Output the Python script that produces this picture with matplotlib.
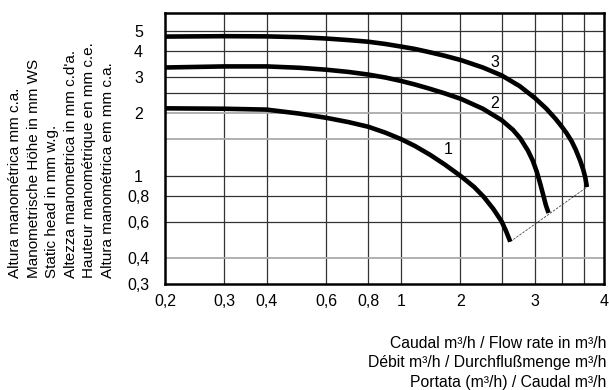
import matplotlib
matplotlib.use("Agg")
import matplotlib.pyplot as plt
from matplotlib.ticker import NullLocator, FixedLocator, FixedFormatter

plt.rcParams['font.family'] = ['Liberation Sans', 'DejaVu Sans']

# ---- data ----
curve1_x = [0.2, 0.3, 0.4, 0.5, 0.6, 0.7, 0.8, 0.9, 1.0, 1.1, 1.22, 1.35,
            1.51, 1.65, 1.76, 1.88, 1.99, 2.05, 2.11]
curve1_y = [2.11, 2.10, 2.08, 1.99, 1.90, 1.81, 1.72, 1.61, 1.50, 1.39, 1.26, 1.13,
            0.99, 0.88, 0.79, 0.69, 0.60, 0.54, 0.48]

curve2_x = [0.2, 0.3, 0.4, 0.5, 0.6, 0.7, 0.8, 0.9, 1.0, 1.1, 1.22, 1.35,
            1.51, 1.75, 1.99, 2.15, 2.26, 2.38, 2.46, 2.53, 2.59, 2.64, 2.69, 2.74]
curve2_y = [3.32, 3.36, 3.36, 3.31, 3.24, 3.16, 3.07, 2.97, 2.86, 2.75, 2.62, 2.49,
            2.34, 2.10, 1.85, 1.66, 1.51, 1.32, 1.18, 1.04, 0.91, 0.81, 0.72, 0.66]

curve3_x = [0.2, 0.3, 0.4, 0.5, 0.6, 0.7, 0.8, 0.9, 1.0, 1.1, 1.22, 1.35,
            1.51, 1.75, 1.99, 2.25, 2.5, 2.7, 2.88, 3.0, 3.10, 3.21, 3.3, 3.40,
            3.47, 3.52, 3.56]
curve3_y = [4.68, 4.70, 4.69, 4.65, 4.58, 4.50, 4.42, 4.31, 4.19, 4.08, 3.93, 3.78,
            3.60, 3.32, 3.04, 2.70, 2.36, 2.10, 1.87, 1.72, 1.60, 1.46, 1.33, 1.18,
            1.07, 0.98, 0.88]

curve_labels = ["1", "2", "3"]
label_x = [1.38, 1.90, 1.90]
label_y = [1.33, 2.23, 3.50]

x_tick_pos = [0.2, 0.3, 0.4, 0.6, 0.8, 1.0, 1.5, 2.5, 4.0]
x_tick_text = ["0,2", "0,3", "0,4", "0,6", "0,8", "1", "2", "3", "4"]
y_tick_pos = [0.3, 0.4, 0.6, 0.8, 1.0, 2.0, 3.0, 4.0, 5.0]
y_tick_text = ["0,3", "0,4", "0,6", "0,8", "1", "2", "3", "4", "5"]

x_grid = [0.3, 0.4, 0.6, 0.8, 1.0, 1.5, 2.0, 2.5, 3.0, 3.5]
y_grid_dark = [0.6, 0.8, 1.0, 2.5, 3.0, 4.0, 5.0]
y_grid_light = [0.4, 1.5, 2.0]

y_title_lines = [
    "Altura manométrica mm c.a.",
    "Manometrische Höhe in mm WS",
    "Static head in mm w.g.",
    "Altezza manometrica in mm c.d'a.",
    "Hauteur manométrique en mm c.e.",
    "Altura manométrica em mm c.a.",
]
x_title_lines = [
    "Caudal m³/h / Flow rate in m³/h",
    "Débit m³/h / Durchflußmenge m³/h",
    "Portata (m³/h) / Caudal m³/h",
]

# ---- figure ----
W, H = 609, 390
fig = plt.figure(figsize=(W / 100, H / 100), dpi=100)
ax = fig.add_axes([165 / W, 1 - 284 / H, 439 / W, (284 - 13.3) / H])
ax.set_xscale('log')
ax.set_yscale('log')
ax.set_xlim(0.2, 4.0)
ax.set_ylim(0.3, 6.06)

for gx in x_grid:
    ax.axvline(gx, color='#333333', lw=0.9, zorder=1)
for gy in y_grid_dark:
    ax.axhline(gy, color='#333333', lw=0.9, zorder=1)
for gy in y_grid_light:
    ax.axhline(gy, color='#aaaaaa', lw=1.3, zorder=1)

for xs, ys in [(curve1_x, curve1_y), (curve2_x, curve2_y), (curve3_x, curve3_y)]:
    ax.plot(xs, ys, color='black', lw=3.3, solid_capstyle='butt',
            solid_joinstyle='round', zorder=3)

# thin dashed line joining the curve ends
ax.plot([curve1_x[-1], curve3_x[-1]], [curve1_y[-1], curve3_y[-1]],
        color='#444444', lw=0.6, ls=(0, (3, 1.5)), zorder=2)

for t, lx, ly in zip(curve_labels, label_x, label_y):
    ax.text(lx, ly, t, fontsize=11.5, ha='center', va='center', zorder=4)

ax.xaxis.set_minor_locator(NullLocator())
ax.yaxis.set_minor_locator(NullLocator())
ax.xaxis.set_major_locator(FixedLocator(x_tick_pos))
ax.xaxis.set_major_formatter(FixedFormatter(x_tick_text))
ax.yaxis.set_major_locator(FixedLocator(y_tick_pos))
ax.yaxis.set_major_formatter(FixedFormatter(y_tick_text))
ax.tick_params(axis='both', length=0, labelsize=11.5)
ax.tick_params(axis='x', pad=7)
ax.tick_params(axis='y', pad=19)
for lab in ax.get_yticklabels():
    lab.set_horizontalalignment('center')

for s in ax.spines.values():
    s.set_linewidth(1.8)
    s.set_color('black')
    s.set_zorder(5)

# y title (six rotated lines)
for i, line in enumerate(y_title_lines):
    fig.text((15 + i * 18.6) / W, 1 - 278 / H, line, rotation=90,
             ha='center', va='bottom', fontsize=11)

# x title (three right-aligned lines)
for i, line in enumerate(x_title_lines):
    fig.text(606 / W, 1 - (343 + i * 19.5) / H, line, ha='right',
             va='center', fontsize=11.3)

fig.savefig('out.png', dpi=100)
